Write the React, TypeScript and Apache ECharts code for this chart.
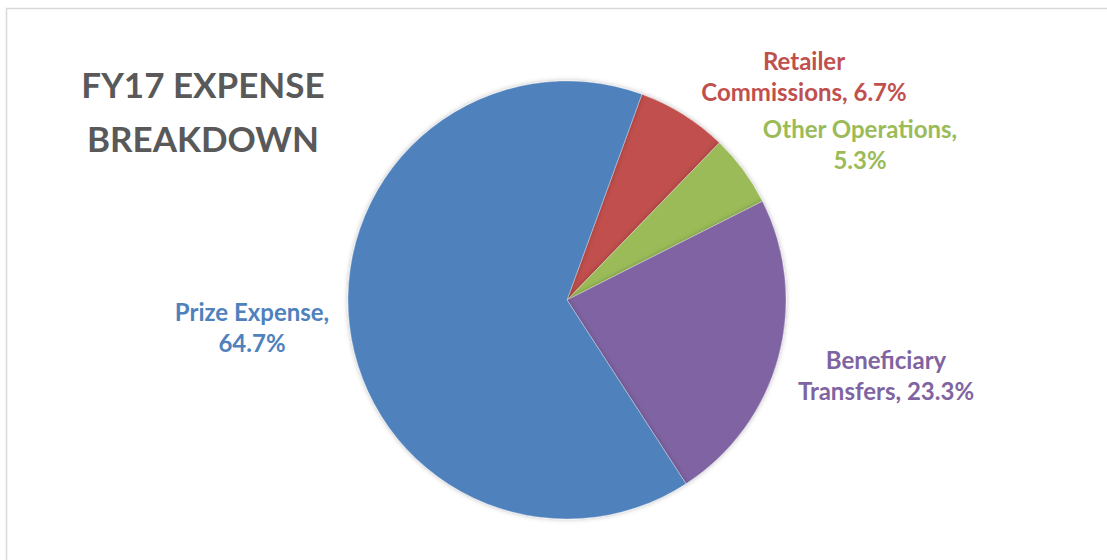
import React, { useEffect, useRef } from "react";
import * as echarts from "echarts";

const categories = ["Retailer\nCommissions", "Other Operations", "Beneficiary\nTransfers", "Prize Expense"];
const values = [6.7, 5.3, 23.3, 64.7];
const separators = [" ", "\n", " ", "\n"];
const colors = ["#C0504D", "#9BBB59", "#8064A2", "#4F81BD"];
const labelPositions: [number, number][] = [
  [804, 76],
  [860, 144],
  [886, 375],
  [252, 327],
];
const titleText = "FY17 EXPENSE\nBREAKDOWN";

export default function App() {
  const ref = useRef<HTMLDivElement>(null);
  useEffect(() => {
    if (!ref.current) return;
    const chart = echarts.init(ref.current, null, { renderer: "svg" });
    chart.setOption({
      animation: false,
      backgroundColor: "#ffffff",
      graphic: [
        {
          type: "rect",
          z: -10,
          silent: true,
          shape: { x: 6.5, y: 8.5, width: 1200, height: 600 },
          style: { fill: "none", stroke: "#d9d9d9", lineWidth: 1.5 },
        },
        {
          type: "text",
          x: 203,
          y: 111,
          style: {
            text: titleText,
            align: "center",
            verticalAlign: "middle",
            fontFamily: "Lato",
            fontWeight: "bold",
            fontSize: 35,
            lineHeight: 54,
            fill: "#595959",
          },
        },
      ],
      series: [
        {
          type: "pie",
          center: [567, 300],
          radius: [0, 219],
          startAngle: 70,
          clockwise: true,
          avoidLabelOverlap: false,
          data: categories.map((c, i) => ({
            name: c,
            value: values[i],
            itemStyle: { color: colors[i] },
            label: { color: colors[i] },
          })),
          itemStyle: {
            borderColor: "rgba(255,255,255,0.6)",
            borderWidth: 0.5,
            shadowBlur: 5,
            shadowColor: "rgba(0,0,0,0.28)",
          },
          label: {
            show: true,
            position: "outside",
            fontFamily: "Lato",
            fontWeight: "bold",
            fontSize: 24,
            lineHeight: 31,
            align: "center",
            formatter: (p: any) =>
              `${p.name},${separators[p.dataIndex]}${values[p.dataIndex].toFixed(1)}%`,
          },
          labelLine: { show: false },
          labelLayout: (p: any) => ({
            x: labelPositions[p.dataIndex][0],
            y: labelPositions[p.dataIndex][1],
            align: "center",
            verticalAlign: "middle",
          }),
          emphasis: { disabled: true },
        },
      ],
    });
    return () => chart.dispose();
  }, []);
  return (
    <div
      ref={ref}
      style={{ position: "fixed", left: 0, top: 0, width: 1107, height: 560 }}
    />
  );
}
